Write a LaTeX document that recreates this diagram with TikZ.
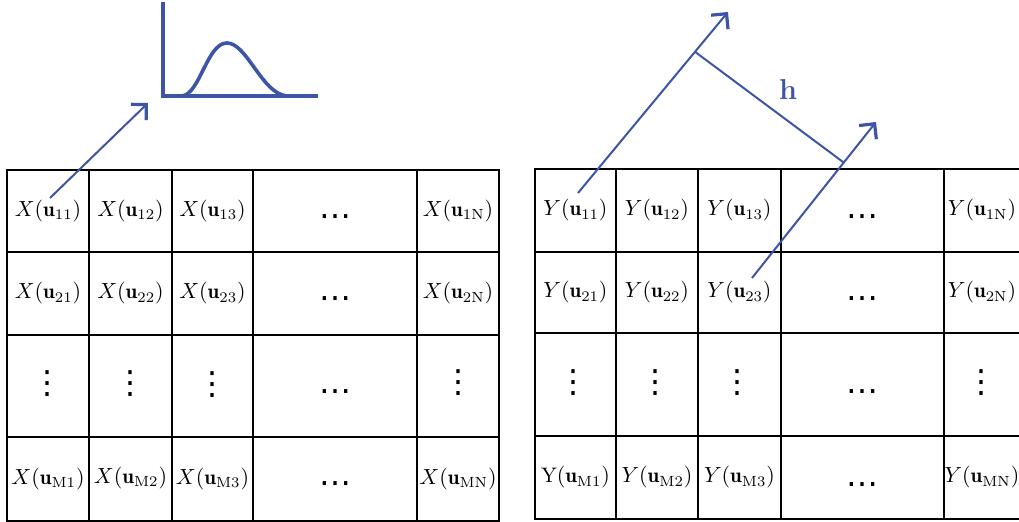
\documentclass[tikz,border=0pt]{standalone}
\usepackage{fontspec}
\newfontfamily\dotsfont{DejaVu Sans}
\usetikzlibrary{arrows.meta,calc}
\definecolor{pblue}{RGB}{62,84,165}
\begin{document}
\begin{tikzpicture}[x=0.5pt,y=-0.5pt,
  grid/.style={line width=1.4pt,black},
  conn/.style={pblue,line width=1pt,-{Straight Barb[length=5.5pt,width=11pt,line width=1.6pt]}},
  plotline/.style={pblue,line width=1.8pt},
  cell/.style={inner sep=0pt,font=\fontsize{10.5}{12}\selectfont},
  dotcell/.style={inner sep=0pt,font=\dotsfont\fontsize{16}{18}\selectfont}]
\useasboundingbox (0,0) rectangle (1019,522);
\clip (0,0) rectangle (1019,522);
% left grid
\draw[grid] (7,170) rectangle (499,521);
\foreach \x in {89,172,253,417} \draw[grid] (\x,170) -- (\x,521);
\foreach \y in {252,335,437} \draw[grid] (7,\y) -- (499,\y);
% right grid
\draw[grid] (535,169) rectangle (1030,519);
\foreach \x in {616,698,781,944} \draw[grid] (\x,169) -- (\x,519);
\foreach \y in {252,333,436} \draw[grid] (535,\y) -- (1030,\y);
% left cells
\node[cell] (L11) at (48,211) {$X(\mathbf{u}_{\mathrm{11}})$};
\node[cell] (L12) at (130.5,211) {$X(\mathbf{u}_{\mathrm{12}})$};
\node[cell] (L13) at (212.5,211) {$X(\mathbf{u}_{\mathrm{13}})$};
\node[dotcell] (L14) at (335,221) {⋯};
\node[cell] (L15) at (458,211) {$X(\mathbf{u}_{\mathrm{1N}})$};
\node[cell] (L21) at (48,293.5) {$X(\mathbf{u}_{\mathrm{21}})$};
\node[cell] (L22) at (130.5,293.5) {$X(\mathbf{u}_{\mathrm{22}})$};
\node[cell] (L23) at (212.5,293.5) {$X(\mathbf{u}_{\mathrm{23}})$};
\node[dotcell] (L24) at (335,303) {⋯};
\node[cell] (L25) at (458,293.5) {$X(\mathbf{u}_{\mathrm{2N}})$};
\node[dotcell] (L31) at (48,384) {⋮};
\node[dotcell] (L32) at (130.5,384) {⋮};
\node[dotcell] (L33) at (212.5,385) {⋮};
\node[dotcell] (L34) at (335,396) {⋯};
\node[dotcell] (L35) at (458,383) {⋮};
\node[cell] (L41) at (48,479) {$X(\mathbf{u}_{\mathrm{M1}})$};
\node[cell] (L42) at (130.5,478) {$X(\mathbf{u}_{\mathrm{M2}})$};
\node[cell] (L43) at (212.5,479) {$X(\mathbf{u}_{\mathrm{M3}})$};
\node[dotcell] (L44) at (335,488) {⋯};
\node[cell] (L45) at (458,479) {$X(\mathbf{u}_{\mathrm{MN}})$};
% right cells
\node[cell] (R11) at (575.5,210.5) {$Y(\mathbf{u}_{\mathrm{11}})$};
\node[cell] (R12) at (657,210.5) {$Y(\mathbf{u}_{\mathrm{12}})$};
\node[cell] (R13) at (739.5,210.5) {$Y(\mathbf{u}_{\mathrm{13}})$};
\node[dotcell] (R14) at (862.5,221) {⋯};
\node[cell] (R15) at (982,210.5) {$Y(\mathbf{u}_{\mathrm{1N}})$};
\node[cell] (R21) at (575.5,292.5) {$Y(\mathbf{u}_{\mathrm{21}})$};
\node[cell] (R22) at (657,292.5) {$Y(\mathbf{u}_{\mathrm{22}})$};
\node[cell] (R23) at (739.5,292.5) {$Y(\mathbf{u}_{\mathrm{23}})$};
\node[dotcell] (R24) at (862.5,303) {⋯};
\node[cell] (R25) at (982,292.5) {$Y(\mathbf{u}_{\mathrm{2N}})$};
\node[dotcell] (R31) at (573,383) {⋮};
\node[dotcell] (R32) at (655,383) {⋮};
\node[dotcell] (R33) at (737,383) {⋮};
\node[dotcell] (R34) at (862.5,396) {⋯};
\node[dotcell] (R35) at (981,383) {⋮};
\node[cell] (R41) at (575.5,477.5) {$\mathrm{Y}(\mathbf{u}_{\mathrm{M1}})$};
\node[cell] (R42) at (657,477.5) {$Y(\mathbf{u}_{\mathrm{M2}})$};
\node[cell] (R43) at (739.5,477.5) {$Y(\mathbf{u}_{\mathrm{M3}})$};
\node[dotcell] (R44) at (862.5,489) {⋯};
\node[cell] (R45) at (982,477.5) {$Y(\mathbf{u}_{\mathrm{MN}})$};
% distribution plot
\draw[plotline] (163,2) -- (163,96) -- (318,96);
\draw[plotline] (182,96) .. controls (200,94) and (207,43) .. (227,43)
  .. controls (247,43) and (262,94) .. (287,96);
% left arrow
\coordinate (a1s) at (50,198);
\coordinate (a1e) at (148,103);
\draw[conn] (a1s) -- (a1e);
% right arrows
\coordinate (b1s) at (578,193);
\coordinate (b1e) at (728,12);
\coordinate (b2s) at (752,278);
\coordinate (b2e) at (876,122);
\draw[conn] (b1s) -- (b1e);
\draw[conn] (b2s) -- (b2e);
\coordinate (hp) at ($(b1s)!0.78!(b1e)$);
\coordinate (hf) at ($(b2s)!0.74!(b2e)$);
\draw[pblue,line width=1pt] (hp) -- (hf);
\node[text=pblue,font=\bfseries\Large] (hl) at (788,90) {h};
\end{tikzpicture}
\end{document}
